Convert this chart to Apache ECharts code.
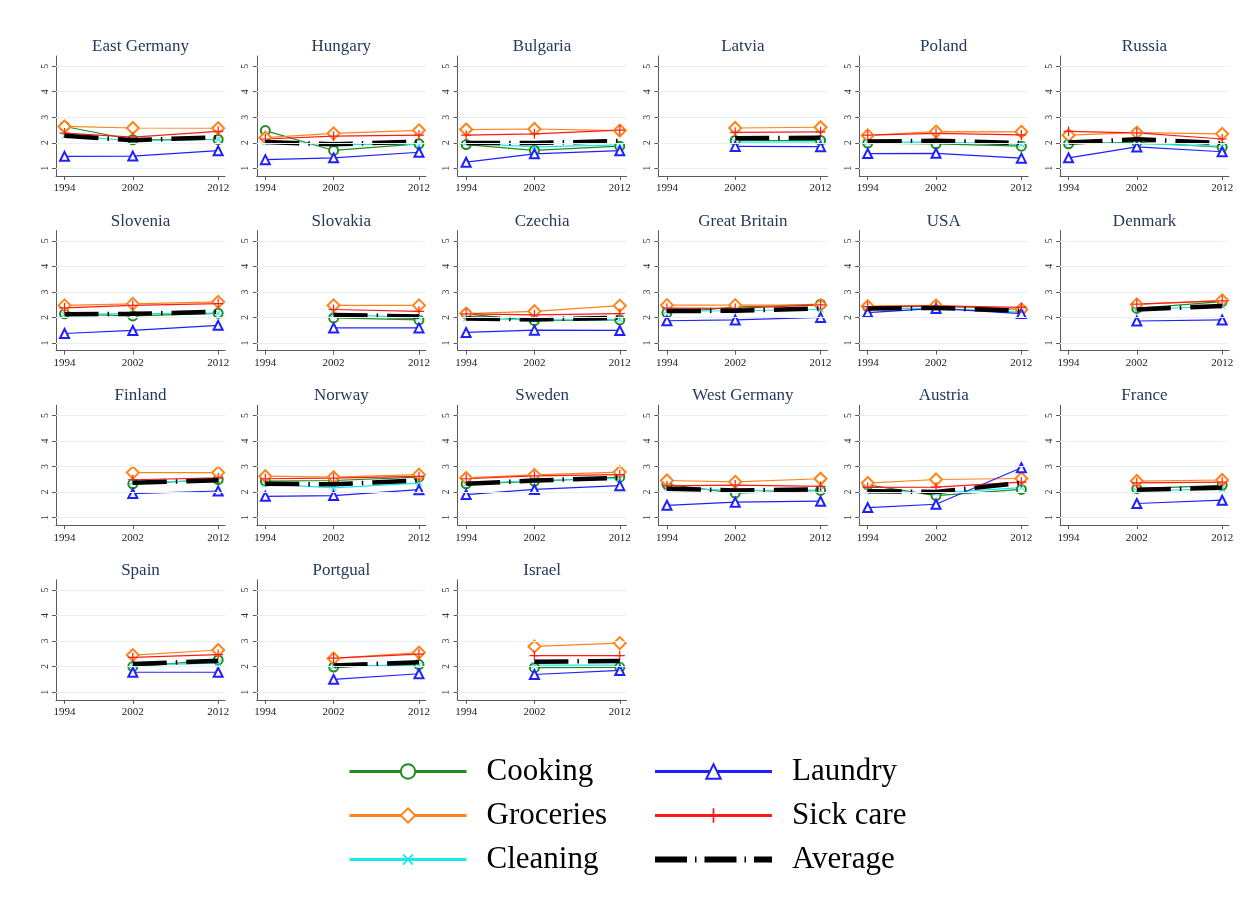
<!DOCTYPE html>
<html>
<head>
<meta charset="utf-8">
<script src="https://cdn.jsdelivr.net/npm/echarts@6/dist/echarts.min.js"></script>
<style>
  html, body { margin: 0; padding: 0; background: #ffffff; }
  #chart { width: 1244px; height: 909px; }
</style>
</head>
<body>
<div id="chart"></div>
<script>
// Panels, in reading order (6 per row)
const countries = [
  'East Germany', 'Hungary', 'Bulgaria', 'Latvia', 'Poland', 'Russia',
  'Slovenia', 'Slovakia', 'Czechia', 'Great Britain', 'USA', 'Denmark',
  'Finland', 'Norway', 'Sweden', 'West Germany', 'Austria', 'France',
  'Spain', 'Portgual', 'Israel'
];
const years = [1994, 2002, 2012];
const yTicks = [1, 2, 3, 4, 5];

// Mean scores per country at 1994, 2002, 2012 (null = no survey that year)
const cooking = [
  [2.64, 2.12, 2.13], [2.48, 1.70, 1.96], [1.93, 1.70, 1.87], [null, 2.09, 2.09], [1.99, 1.96, 1.87], [1.96, 2.02, 1.83],
  [2.14, 2.06, 2.16], [null, 1.98, 1.90], [2.14, 1.87, 1.90], [2.18, 2.40, 2.52], [2.41, 2.44, 2.31], [null, 2.35, 2.62],
  [null, 2.32, 2.49], [2.43, 2.45, 2.58], [2.32, 2.42, 2.58], [2.30, 1.96, 2.06], [2.28, 1.86, 2.10], [null, 2.13, 2.26],
  [null, 2.00, 2.26], [null, 1.98, 2.08], [null, 1.96, 1.97]
];
const groceries = [
  [2.64, 2.58, 2.57], [2.20, 2.37, 2.49], [2.52, 2.54, 2.48], [null, 2.58, 2.61], [2.29, 2.44, 2.43], [2.30, 2.40, 2.35],
  [2.47, 2.53, 2.61], [null, 2.47, 2.47], [2.15, 2.24, 2.46], [2.48, 2.48, 2.48], [2.44, 2.47, 2.31], [null, 2.51, 2.67],
  [null, 2.76, 2.76], [2.62, 2.58, 2.68], [2.55, 2.67, 2.78], [2.45, 2.40, 2.52], [2.35, 2.49, 2.53], [null, 2.43, 2.47],
  [null, 2.45, 2.65], [null, 2.32, 2.55], [null, 2.79, 2.92]
];
const cleaning = [
  [2.28, 2.08, 2.13], [2.03, 1.94, 1.94], [1.99, 1.84, 1.92], [null, 2.03, 2.04], [2.02, 2.04, 1.93], [2.00, 1.97, 1.86],
  [2.12, 2.15, 2.17], [null, 2.12, 1.99], [1.96, 1.90, 1.91], [2.25, 2.26, 2.31], [2.35, 2.35, 2.21], [null, 2.31, 2.44],
  [null, 2.38, 2.45], [2.32, 2.16, 2.35], [2.32, 2.45, 2.53], [2.16, 2.06, 2.07], [2.05, 1.96, 2.17], [null, 2.04, 2.12],
  [null, 2.06, 2.14], [null, 2.00, 2.08], [null, 2.06, 2.06]
];
const laundry = [
  [1.47, 1.48, 1.69], [1.34, 1.41, 1.63], [1.24, 1.57, 1.69], [null, 1.86, 1.85], [1.58, 1.59, 1.40], [1.41, 1.84, 1.65],
  [1.37, 1.49, 1.69], [null, 1.59, 1.59], [1.41, 1.50, 1.49], [1.87, 1.90, 2.00], [2.19, 2.35, 2.15], [null, 1.86, 1.90],
  [null, 1.94, 2.04], [1.83, 1.86, 2.09], [1.90, 2.10, 2.25], [1.48, 1.60, 1.64], [1.39, 1.52, 2.95], [null, 1.55, 1.68],
  [null, 1.78, 1.78], [null, 1.50, 1.72], [null, 1.69, 1.85]
];
const sickCare = [
  [2.38, 2.22, 2.45], [2.15, 2.26, 2.30], [2.30, 2.35, 2.50], [null, 2.41, 2.43], [2.30, 2.37, 2.31], [2.45, 2.39, 2.15],
  [2.37, 2.47, 2.54], [null, 2.31, 2.24], [2.14, 2.10, 2.15], [2.36, 2.35, 2.49], [2.42, 2.45, 2.39], [null, 2.52, 2.65],
  [null, 2.48, 2.55], [2.52, 2.54, 2.61], [2.52, 2.63, 2.68], [2.24, 2.27, 2.22], [2.18, 2.19, 2.39], [null, 2.36, 2.39],
  [null, 2.36, 2.47], [null, 2.33, 2.49], [null, 2.43, 2.43]
];
const average = [
  [2.28, 2.10, 2.22], [2.03, 1.94, 2.05], [1.99, 1.99, 2.07], [null, 2.18, 2.20], [2.05, 2.08, 1.99], [2.01, 2.14, 1.99],
  [2.12, 2.14, 2.22], [null, 2.09, 2.04], [1.96, 1.92, 1.99], [2.25, 2.26, 2.35], [2.35, 2.37, 2.26], [null, 2.31, 2.45],
  [null, 2.36, 2.46], [2.32, 2.30, 2.45], [2.32, 2.45, 2.56], [2.13, 2.06, 2.10], [2.03, 2.00, 2.36], [null, 2.09, 2.17],
  [null, 2.10, 2.23], [null, 2.04, 2.17], [null, 2.19, 2.22]
];

const SERIF = '"Liberation Serif", "DejaVu Serif", serif';
const PLUS = 'path://M4.4,0H5.6V4.4H10V5.6H5.6V10H4.4V5.6H0V4.4H4.4Z';

const tasks = [
  { name: 'Cooking',   values: cooking,   color: '#1e8c1e', symbol: 'emptyCircle',   size: 9,  rotate: 0 },
  { name: 'Groceries', values: groceries, color: '#ff8418', symbol: 'emptyDiamond',  size: 12, rotate: 0 },
  { name: 'Cleaning',  values: cleaning,  color: '#1ee6e6', symbol: PLUS,            size: 8,  rotate: 45 },
  { name: 'Laundry',   values: laundry,   color: '#2020ff', symbol: 'emptyTriangle', size: 9,  rotate: 0 },
  { name: 'Sick care', values: sickCare,  color: '#ff1a1a', symbol: PLUS,            size: 10, rotate: 0 }
];

// Panel geometry
const COL0 = 56, COL_STEP = 200.8, ROW0 = 56, ROW_STEP = 174.6;
const PW = 169, PH = 120;

const grids = [], xAxes = [], yAxes = [], titles = [], series = [];

function points(vals) {
  return years.map((y, k) => [y, vals[k]]).filter(p => p[1] != null);
}

countries.forEach((name, i) => {
  const col = i % 6, row = Math.floor(i / 6);
  const left = COL0 + col * COL_STEP;
  const top = ROW0 + row * ROW_STEP;
  grids.push({ left: left, top: top, width: PW, height: PH, containLabel: false });
  titles.push({
    text: name, left: left + PW / 2, top: top - 18, textAlign: 'center', padding: 0,
    textStyle: { fontFamily: SERIF, fontSize: 17, fontWeight: 'normal', color: '#25395a' }
  });
  xAxes.push({
    type: 'value', gridIndex: i, min: 1993, max: 2012.8,
    axisLine: { show: true, lineStyle: { color: '#5a5a5a', width: 1 } },
    axisTick: { show: true, length: 4, customValues: years, lineStyle: { color: '#5a5a5a' } },
    axisLabel: {
      customValues: years, formatter: v => String(v),
      fontFamily: SERIF, fontSize: 11, color: '#222', margin: 7
    },
    splitLine: { show: false }
  });
  yAxes.push({
    type: 'value', gridIndex: i, min: 0.7, max: 5.4,
    axisLine: { show: true, lineStyle: { color: '#5a5a5a', width: 1 } },
    axisTick: { show: true, length: 4, customValues: yTicks, lineStyle: { color: '#5a5a5a' } },
    axisLabel: { customValues: yTicks, rotate: 90, fontFamily: SERIF, fontSize: 10, color: '#333', margin: 6 },
    splitLine: { show: false }
  });
  // faint horizontal reference lines at each tick
  series.push({
    type: 'line', xAxisIndex: i, yAxisIndex: i, data: [], silent: true, z: 0,
    markLine: {
      silent: true, symbol: 'none', animation: false,
      label: { show: false },
      lineStyle: { color: '#e9f0f2', width: 1, type: 'solid' },
      data: yTicks.map(v => ({ yAxis: v }))
    }
  });
  tasks.forEach(t => {
    series.push({
      name: t.name, type: 'line', xAxisIndex: i, yAxisIndex: i,
      data: points(t.values[i]),
      symbol: t.symbol, symbolSize: t.size, symbolRotate: t.rotate, showSymbol: true,
      lineStyle: { color: t.color, width: 1.2 },
      itemStyle: { color: t.color, borderWidth: 1.3 },
      emphasis: { disabled: true }, animation: false, z: 2
    });
  });
  series.push({
    name: 'Average', type: 'line', xAxisIndex: i, yAxisIndex: i,
    data: points(average[i]),
    symbol: 'none',
    lineStyle: { color: '#000', width: 4.5, type: [34, 9, 1.5, 9], cap: 'butt' },
    itemStyle: { color: '#000' },
    emphasis: { disabled: true }, animation: false, z: 3
  });
});

const legendText = { fontFamily: SERIF, fontSize: 31, color: '#000', padding: [0, 0, 0, 15] };
const legendBase = {
  orient: 'vertical', top: 751, itemWidth: 117, itemHeight: 18, itemGap: 13,
  textStyle: legendText, selectedMode: false
};

const chart = echarts.init(document.getElementById('chart'), null, { renderer: 'canvas' });
chart.setOption({
  backgroundColor: '#ffffff',
  animation: false,
  title: titles,
  grid: grids,
  xAxis: xAxes,
  yAxis: yAxes,
  legend: [
    Object.assign({}, legendBase, {
      left: 343,
      data: [
        { name: 'Cooking', lineStyle: { width: 3 } },
        { name: 'Groceries', lineStyle: { width: 3 } },
        { name: 'Cleaning', lineStyle: { width: 3 } }
      ]
    }),
    Object.assign({}, legendBase, {
      left: 647,
      data: [
        { name: 'Laundry', lineStyle: { width: 3 } },
        { name: 'Sick care', lineStyle: { width: 3 } },
        { name: 'Average', lineStyle: { width: 6, type: [32, 8, 1.5, 8] }, itemStyle: { opacity: 0 } }
      ]
    })
  ],
  series: series
});
</script>
</body>
</html>
